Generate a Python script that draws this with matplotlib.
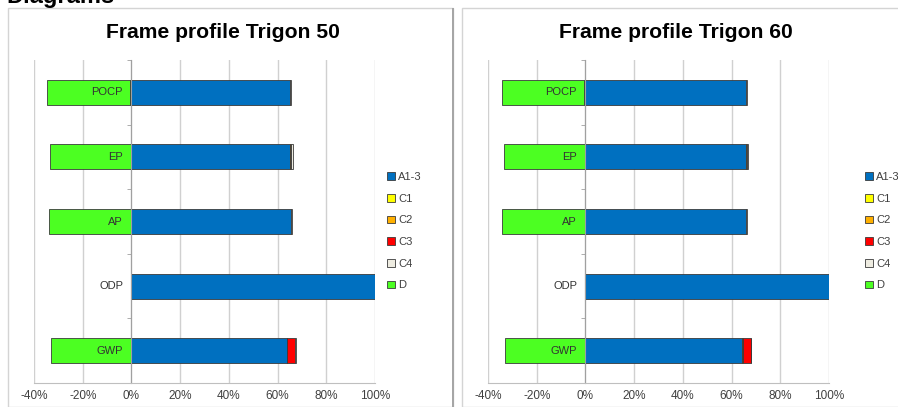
import matplotlib.pyplot as plt
from matplotlib.patches import Rectangle
import numpy as np

plt.rcParams['font.family'] = ['Liberation Sans', 'DejaVu Sans']

cats = ['POCP', 'EP', 'AP', 'ODP', 'GWP']
series = ['A1-3', 'C1', 'C2', 'C3', 'C4', 'D']
colors = ['#0070c0', '#ffff00', '#ffb000', '#ff0000', '#eeece1', '#4cff22']

# values in %
t50_a13 = [65.3, 65.3, 65.6, 100.0, 63.7]
t50_c1 = [0, 0, 0, 0, 0]
t50_c2 = [-0.5, 0.4, 0, 0, 0.3]
t50_c3 = [0, 0, 0, 0, 3.3]
t50_c4 = [0.3, 0.6, 0.5, 0, 0.1]
t50_d = [-34.0, -33.5, -34.0, 0, -32.9]

t60_a13 = [66.0, 66.0, 66.0, 100.0, 64.3]
t60_c1 = [0, 0, 0, 0, 0]
t60_c2 = [-0.6, 0.3, 0, 0, 0.2]
t60_c3 = [0, 0, 0, 0, 3.3]
t60_c4 = [0.3, 0.5, 0.4, 0, 0.1]
t60_d = [-33.7, -33.4, -34.2, 0, -33.0]

xticks = [-40, -20, 0, 20, 40, 60, 80, 100]

W, H = 898, 407
fig = plt.figure(figsize=(W / 100, H / 100), dpi=100)


def fx(px):
    return px / W


def fy(py):
    return 1 - py / H


# heading cut at the top and panel frames
fig.text(fx(6), fy(3), 'Diagrams', fontsize=17, fontweight='bold', ha='left', va='baseline')
fig.patches.append(Rectangle((fx(8), 0), fx(453) - fx(8), fy(8), transform=fig.transFigure,
                             fill=False, edgecolor='#d4d4d4', lw=1))
fig.patches.append(Rectangle((fx(452), 0), fx(2), fy(8), transform=fig.transFigure,
                             facecolor='#a6a6a6', edgecolor='none'))
fig.patches.append(Rectangle((fx(462), 0), fx(460), fy(8), transform=fig.transFigure,
                             fill=False, edgecolor='#d4d4d4', lw=1))


def draw(ax_left, title, title_x, legend_x, data):
    ax = fig.add_axes([fx(ax_left), fy(383), fx(341), 323 / H])
    y = np.arange(len(cats))
    pos = np.zeros(len(cats))
    neg = np.zeros(len(cats))
    handles = []
    for name, vals, c in zip(series, data, colors):
        vals = np.array(vals, dtype=float)
        left = np.where(vals >= 0, pos, neg)
        b = ax.barh(y, vals, left=left, height=0.39, color=c, edgecolor='#3a3a3a',
                    linewidth=0.6, label=name, zorder=2)
        handles.append(b)
        pos = pos + np.where(vals > 0, vals, 0)
        neg = neg + np.where(vals < 0, vals, 0)
    ax.set_xlim(-40, 100)
    ax.set_ylim(len(cats) - 0.5, -0.5)
    ax.set_xticks(xticks)
    ax.set_xticklabels([f'{t}%' for t in xticks], fontsize=8.5, color='#404040')
    ax.tick_params(axis='x', length=0, pad=5)
    ax.set_axisbelow(True)
    ax.grid(axis='x', color='#d0d0d0', lw=1)
    for s in ['top', 'right']:
        ax.spines[s].set_visible(False)
    ax.spines['bottom'].set_color('#bfbfbf')
    ax.spines['left'].set_position(('data', 0))
    ax.spines['left'].set_color('#a0a0a0')
    ax.set_yticks([])
    ax.set_yticks(np.arange(len(cats) + 1) - 0.5, minor=True)
    ax.tick_params(axis='y', which='minor', length=3, color='#a0a0a0', direction='out')
    for i, c in enumerate(cats):
        ax.annotate(c, (0, i), xytext=(-6, 0), textcoords='offset points', ha='right',
                    va='center', fontsize=8, color='#333333', zorder=5)
    fig.text(fx(title_x), fy(32), title, fontsize=15.2, fontweight='bold', ha='center', va='center')
    fig.legend(handles=handles, loc='upper left', bbox_to_anchor=(fx(legend_x), fy(162)),
               frameon=False, fontsize=8, handlelength=0.7, handleheight=0.7,
               handletextpad=0.3, labelspacing=1.05, labelcolor='#404040')
    return ax


draw(34, 'Frame profile Trigon 50', 223, 377,
     [t50_a13, t50_c1, t50_c2, t50_c3, t50_c4, t50_d])
draw(488, 'Frame profile Trigon 60', 676, 855,
     [t60_a13, t60_c1, t60_c2, t60_c3, t60_c4, t60_d])

fig.savefig('out.png', dpi=100)
